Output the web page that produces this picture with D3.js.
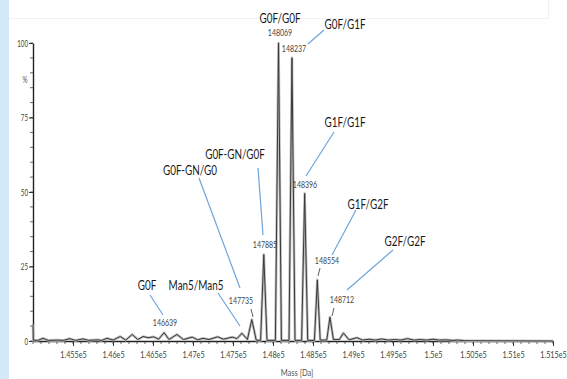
<!DOCTYPE html>
<html><head><meta charset="utf-8">
<script src="https://cdn.jsdelivr.net/npm/d3@7/dist/d3.min.js"></script>
<style>
html,body{margin:0;padding:0;background:#fff;}
svg{display:block;}
text{font-family:Lato,"Open Sans",sans-serif;}
</style></head>
<body>
<svg id="chart" width="567" height="379"></svg>
<script>
// ---- data ----
const spectrumMass = [145000,145004,145060,145125,145190,145300,145380,145460,145530,145625,145700,145800,145860,145925,146000,146090,146160,146240,146310,146375,146440,146510,146570,146639,146700,146800,146880,146990,147060,147125,147200,147310,147380,147490,147550,147612,147680,147735,147790,147845,147885,147925,148030,148069,148105,148200,148237,148275,148358,148396,148434,148518,148554,148590,148672,148712,148755,148830,148880,148950,149050,149120,149200,149280,149360,149440,149520,149600,149680,149760,149840,149920,150000,150080,150160,150240,150320,150400,151500];
const spectrumIntensity = [5.5,0.3,0.2,0.9,0.2,0.3,0.2,0.8,0.2,0.7,0.2,0.4,0.2,0.9,0.3,1.5,0.3,2.2,0.5,1.5,1.1,1.4,0.6,2.8,0.5,2.2,0.5,1.3,0.4,0.9,0.5,1.4,0.6,1.3,0.8,2.6,0.5,7.2,0.3,0.2,29,0.2,0.2,100,0.2,0.2,95,0.2,0.2,49.5,0.2,0.2,20.5,0.3,0.3,8,0.5,0.5,2.7,0.4,1.1,0.3,0.6,0.3,0.7,0.3,0.5,0.3,0.8,0.3,0.5,0.3,0.6,0.3,0.4,0.2,0.3,0.1,0];
const xTickValues = [145500,146000,146500,147000,147500,148000,148500,149000,149500,150000,150500,151000,151500];
const yTickValues = [0,25,50,75,100];
const peakLabels = ["146639","147735","147885","148069","148237","148396","148554","148712"];
const glycoforms = ["G0F","Man5/Man5","G0F-GN/G0","G0F-GN/G0F","G0F/G0F","G0F/G1F","G1F/G1F","G1F/G2F","G2F/G2F"];

// ---- layout ----
const svg = d3.select("#chart");
const x = d3.scaleLinear().domain([145000,151500]).range([33,553]);
const y = d3.scaleLinear().domain([0,100]).range([341,43]);
const SX = 0.72; // horizontal condensing of text

function label(g, txt, px, py, size, fill, sx) {
  return g.append("text")
    .attr("transform", `translate(${px},${py}) scale(${sx||SX},1)`)
    .attr("text-anchor","middle").attr("font-size",size).attr("fill",fill).text(txt);
}

// background decorations
svg.append("rect").attr("x",0).attr("y",0).attr("width",9).attr("height",379).attr("fill","#d3ebf8");
svg.append("line").attr("x1",9).attr("x2",549).attr("y1",18.5).attr("y2",18.5).attr("stroke","#f1f1f1");
svg.append("line").attr("x1",548.5).attr("x2",548.5).attr("y1",0).attr("y2",18).attr("stroke","#f1f1f1");

// minor ticks
const minorY = d3.range(0,101,5);
svg.append("g").selectAll("line").data(minorY).join("line")
  .attr("x1",30).attr("x2",33).attr("y1",d=>y(d)).attr("y2",d=>y(d))
  .attr("stroke","#444").attr("stroke-width",0.8);
const minorX = d3.range(145000,151501,100);
svg.append("g").selectAll("line").data(minorX).join("line")
  .attr("x1",d=>x(d)).attr("x2",d=>x(d)).attr("y1",341).attr("y2",344)
  .attr("stroke","#444").attr("stroke-width",0.8);

// axes
const fmt = d => (d/1e5).toString() + "e5";
const xAxis = svg.append("g").attr("transform","translate(0,341)")
  .call(d3.axisBottom(x).tickValues(xTickValues).tickFormat(fmt).tickSize(5).tickSizeOuter(0));
xAxis.select(".domain").attr("stroke","#222").attr("stroke-width",1.6);
xAxis.selectAll(".tick line").attr("stroke","#333");
xAxis.selectAll("text").attr("font-size",10).attr("fill","#444").attr("dy","0.95em")
  .attr("transform",`scale(${SX},1)`);

const yAxis = svg.append("g").attr("transform","translate(33,0)")
  .call(d3.axisLeft(y).tickValues(yTickValues).tickSize(4).tickSizeOuter(0));
yAxis.select(".domain").attr("stroke","#222").attr("stroke-width",1.4);
yAxis.selectAll(".tick line").attr("stroke","#333");
yAxis.selectAll("text").attr("font-size",9.5).attr("fill","#444")
  .attr("x",-5/0.65).attr("transform","scale(0.65,1)");

label(svg,"%",25,83,9,"#555",0.7);
label(svg,"Mass [Da]",297,376,10,"#555",0.75);

// spectrum line
const pts = spectrumMass.map((m,i)=>[m,spectrumIntensity[i]]);
const line = d3.line().x(d=>x(d[0])).y(d=>y(d[1]));
svg.append("path").datum(pts).attr("d",line).attr("fill","none")
  .attr("stroke","#bdbdbd").attr("stroke-width",2.6).attr("stroke-linejoin","round");
svg.append("path").datum(pts).attr("d",line).attr("fill","none")
  .attr("stroke","#3a3a3a").attr("stroke-width",1).attr("stroke-linejoin","round");

// peak mass labels (position layout)
const peakLabelPos = [[165,326],[241,304],[265,248],[280,36],[294,52],[305,188],[327,264],[342,303]];
const pg = svg.append("g");
peakLabels.forEach((t,i)=>label(pg,t,peakLabelPos[i][0],peakLabelPos[i][1],10,"#444",0.7));
// small dark ticks from number labels to peaks
const smallTicks = [[251,309,253,317],[320,268,318,276],[334,308,332,316]];
svg.append("g").selectAll("line").data(smallTicks).join("line")
  .attr("x1",d=>d[0]).attr("y1",d=>d[1]).attr("x2",d=>d[2]).attr("y2",d=>d[3])
  .attr("stroke","#333").attr("stroke-width",0.8);

// glycoform labels + leader lines
const glyPos = [[147,290],[196,290],[190,175],[235,159],[280,23],[345,29],[345,127],[368,209],[405,246]];
const gg = svg.append("g");
glycoforms.forEach((t,i)=>label(gg,t,glyPos[i][0],glyPos[i][1],13,"#1a1a1a",0.76));
const leaders = [[150,295,163,315],[218,293,240,326],[199,178,240,288],[258,168,263,235],
  [324,30,308,44],[334,132,306,176],[356,210,332,255],[393,250,347,290]];
svg.append("g").selectAll("line").data(leaders).join("line")
  .attr("x1",d=>d[0]).attr("y1",d=>d[1]).attr("x2",d=>d[2]).attr("y2",d=>d[3])
  .attr("stroke","#6fa4d8").attr("stroke-width",1.2);
</script>
</body></html>
